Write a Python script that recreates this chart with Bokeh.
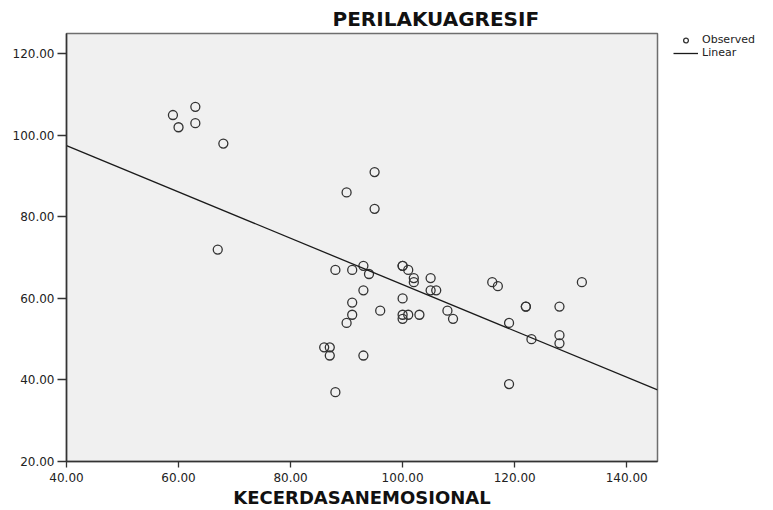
from bokeh.plotting import figure
from bokeh.layouts import row
from bokeh.models import (Range1d, FixedTicker, PrintfTickFormatter,
                          Legend, LegendItem)
from bokeh.embed import file_html
from bokeh.resources import INLINE

# ---- data ----
kecerdasan = [59, 60, 63, 63, 68, 67, 95, 90, 95, 88, 91, 93, 94, 100, 100, 101,
              102, 102, 105, 105, 106, 93, 91, 100, 96, 91, 100, 100, 101, 103,
              108, 109, 90, 86, 87, 87, 93, 88, 116, 117, 132, 122, 122, 128,
              119, 123, 128, 128, 119]
perilaku = [105, 102, 107, 103, 98, 72, 91, 86, 82, 67, 67, 68, 66, 68, 68, 67,
            65, 64, 65, 62, 62, 62, 59, 60, 57, 56, 56, 55, 56, 56, 57, 55, 54,
            48, 48, 46, 46, 37, 64, 63, 64, 58, 58, 58, 54, 50, 51, 49, 39]

line_intercept = 120.2
line_slope = -0.568

x_ticks = [40, 60, 80, 100, 120, 140]
y_ticks = [20, 40, 60, 80, 100, 120]
x_min, x_max = 40, 145.5
y_min, y_max = 20, 125

title_text = "PERILAKUAGRESIF"
x_title = "KECERDASANEMOSIONAL"
legend_labels = ["Observed", "Linear"]

FONT = "DejaVu Sans"
MARK_COLOR = "#333333"
LINE_COLOR = "#1a1a1a"

p = figure(width=659, height=510, title=title_text,
           x_range=Range1d(x_min, x_max), y_range=Range1d(y_min, y_max),
           output_backend="svg", toolbar_location=None,
           min_border_left=66, min_border_top=33, min_border_right=2,
           min_border_bottom=48,
           background_fill_color="#F0F0F0", border_fill_color="white",
           outline_line_color="#6e6e6e", outline_line_width=1.5)

p.title.align = "left"
p.title.offset = 266
p.title.standoff = 6
p.title.text_font = FONT
p.title.text_font_size = "20px"
p.title.text_font_style = "bold"
p.title.text_color = "#111111"

p.grid.visible = False

for ax, ticks in ((p.xaxis[0], x_ticks), (p.yaxis[0], y_ticks)):
    ax.ticker = FixedTicker(ticks=ticks)
    ax.formatter = PrintfTickFormatter(format="%.2f")
    ax.minor_tick_line_color = None
    ax.major_tick_in = 0
    ax.axis_line_color = MARK_COLOR
    ax.axis_line_width = 1.5
    ax.major_tick_line_color = MARK_COLOR
    ax.major_tick_line_width = 1.3
    ax.major_label_text_font = FONT
    ax.major_label_text_font_size = "12px"
    ax.major_label_text_color = "#222222"

p.xaxis.major_tick_out = 6
p.xaxis.major_label_standoff = 5
p.xaxis.axis_label = x_title
p.xaxis.axis_label_standoff = 2
p.xaxis.axis_label_text_font = FONT
p.xaxis.axis_label_text_font_size = "18px"
p.xaxis.axis_label_text_font_style = "bold"
p.xaxis.axis_label_text_color = "#111111"
p.yaxis.major_tick_out = 9
p.yaxis.major_label_standoff = 3

p.scatter(kecerdasan, perilaku, marker="circle", size=9,
          fill_color=None, line_color=MARK_COLOR, line_width=1.3)

lx = [x_min, x_max]
ly = [line_intercept + line_slope * v for v in lx]
p.line(lx, ly, line_color=LINE_COLOR, line_width=1.3)

# ---- legend panel to the right of the plot ----
# the key renderers reuse the same data, but their ranges keep them out of view
p2 = figure(width=114, height=510, title=None,
            x_range=Range1d(0, 1), y_range=Range1d(0, 1),
            x_axis_type=None, y_axis_type=None,
            output_backend="svg", toolbar_location=None,
            min_border_left=14, min_border_top=30, min_border_right=0,
            min_border_bottom=0, outline_line_color=None,
            background_fill_color="white", border_fill_color="white")
p2.grid.visible = False
k_obs = p2.scatter(kecerdasan, perilaku, marker="circle", size=9,
                   fill_color=None, line_color=MARK_COLOR, line_width=1.3)
k_lin = p2.line(lx, ly, line_color=LINE_COLOR, line_width=1.3)

legend = Legend(items=[LegendItem(label=legend_labels[0], renderers=[k_obs]),
                       LegendItem(label=legend_labels[1], renderers=[k_lin])],
                location="top_left", padding=0, margin=0, spacing=0,
                border_line_color=None, background_fill_alpha=0,
                glyph_width=25, glyph_height=12, label_height=12,
                label_standoff=4, label_text_font=FONT,
                label_text_font_size="11px", label_text_color="#222222")
p2.add_layout(legend)

open("out.html", "w").write(file_html(row(p, p2), INLINE))
